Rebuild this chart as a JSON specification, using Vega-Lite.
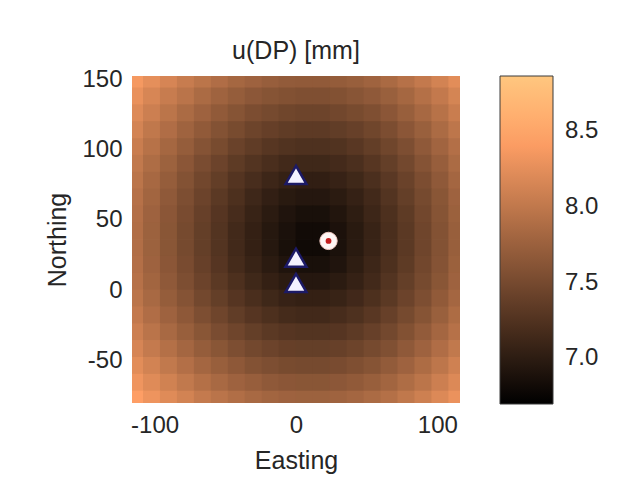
{
"$schema":"https://vega.github.io/schema/vega-lite/v6.json",
"autosize":"none",
"width":328,"height":327,
"padding":{"left":132,"top":76,"right":162,"bottom":97},
"background":"#ffffff",
"config":{"view":{"stroke":null},"font":"Liberation Sans"},
"title":{"text":"u(DP) [mm]","fontSize":25,"fontWeight":"normal","color":"#262626","frame":"group","baseline":"alphabetic","offset":-16,"font":"Liberation Sans"},
"datasets":{
"grid":[
{"x":-114,"y":150,"v":8.36},{"x":-102,"y":150,"v":8.25},{"x":-90,"y":150,"v":8.15},{"x":-78,"y":150,"v":8.05},{"x":-66,"y":150,"v":7.97},{"x":-54,"y":150,"v":7.89},{"x":-42,"y":150,"v":7.82},{"x":-30,"y":150,"v":7.77},{"x":-18,"y":150,"v":7.72},{"x":-6,"y":150,"v":7.69},{"x":6,"y":150,"v":7.68},{"x":18,"y":150,"v":7.68},{"x":30,"y":150,"v":7.70},{"x":42,"y":150,"v":7.73},{"x":54,"y":150,"v":7.78},{"x":66,"y":150,"v":7.85},{"x":78,"y":150,"v":7.93},{"x":90,"y":150,"v":8.02},{"x":102,"y":150,"v":8.12},{"x":114,"y":150,"v":8.23},
{"x":-114,"y":138,"v":8.28},{"x":-102,"y":138,"v":8.16},{"x":-90,"y":138,"v":8.05},{"x":-78,"y":138,"v":7.96},{"x":-66,"y":138,"v":7.86},{"x":-54,"y":138,"v":7.78},{"x":-42,"y":138,"v":7.71},{"x":-30,"y":138,"v":7.65},{"x":-18,"y":138,"v":7.61},{"x":-6,"y":138,"v":7.58},{"x":6,"y":138,"v":7.56},{"x":18,"y":138,"v":7.56},{"x":30,"y":138,"v":7.58},{"x":42,"y":138,"v":7.62},{"x":54,"y":138,"v":7.67},{"x":66,"y":138,"v":7.74},{"x":78,"y":138,"v":7.82},{"x":90,"y":138,"v":7.92},{"x":102,"y":138,"v":8.02},{"x":114,"y":138,"v":8.14},
{"x":-114,"y":126,"v":8.20},{"x":-102,"y":126,"v":8.08},{"x":-90,"y":126,"v":7.97},{"x":-78,"y":126,"v":7.86},{"x":-66,"y":126,"v":7.77},{"x":-54,"y":126,"v":7.68},{"x":-42,"y":126,"v":7.61},{"x":-30,"y":126,"v":7.54},{"x":-18,"y":126,"v":7.50},{"x":-6,"y":126,"v":7.46},{"x":6,"y":126,"v":7.44},{"x":18,"y":126,"v":7.44},{"x":30,"y":126,"v":7.47},{"x":42,"y":126,"v":7.51},{"x":54,"y":126,"v":7.56},{"x":66,"y":126,"v":7.64},{"x":78,"y":126,"v":7.73},{"x":90,"y":126,"v":7.83},{"x":102,"y":126,"v":7.94},{"x":114,"y":126,"v":8.06},
{"x":-114,"y":114,"v":8.13},{"x":-102,"y":114,"v":8.00},{"x":-90,"y":114,"v":7.89},{"x":-78,"y":114,"v":7.78},{"x":-66,"y":114,"v":7.68},{"x":-54,"y":114,"v":7.59},{"x":-42,"y":114,"v":7.51},{"x":-30,"y":114,"v":7.44},{"x":-18,"y":114,"v":7.39},{"x":-6,"y":114,"v":7.35},{"x":6,"y":114,"v":7.33},{"x":18,"y":114,"v":7.33},{"x":30,"y":114,"v":7.36},{"x":42,"y":114,"v":7.40},{"x":54,"y":114,"v":7.46},{"x":66,"y":114,"v":7.54},{"x":78,"y":114,"v":7.64},{"x":90,"y":114,"v":7.74},{"x":102,"y":114,"v":7.86},{"x":114,"y":114,"v":7.98},
{"x":-114,"y":102,"v":8.06},{"x":-102,"y":102,"v":7.94},{"x":-90,"y":102,"v":7.82},{"x":-78,"y":102,"v":7.71},{"x":-66,"y":102,"v":7.60},{"x":-54,"y":102,"v":7.51},{"x":-42,"y":102,"v":7.42},{"x":-30,"y":102,"v":7.35},{"x":-18,"y":102,"v":7.29},{"x":-6,"y":102,"v":7.25},{"x":6,"y":102,"v":7.23},{"x":18,"y":102,"v":7.23},{"x":30,"y":102,"v":7.25},{"x":42,"y":102,"v":7.30},{"x":54,"y":102,"v":7.37},{"x":66,"y":102,"v":7.46},{"x":78,"y":102,"v":7.55},{"x":90,"y":102,"v":7.67},{"x":102,"y":102,"v":7.79},{"x":114,"y":102,"v":7.91},
{"x":-114,"y":90,"v":8.01},{"x":-102,"y":90,"v":7.88},{"x":-90,"y":90,"v":7.76},{"x":-78,"y":90,"v":7.64},{"x":-66,"y":90,"v":7.53},{"x":-54,"y":90,"v":7.43},{"x":-42,"y":90,"v":7.34},{"x":-30,"y":90,"v":7.26},{"x":-18,"y":90,"v":7.20},{"x":-6,"y":90,"v":7.15},{"x":6,"y":90,"v":7.13},{"x":18,"y":90,"v":7.13},{"x":30,"y":90,"v":7.16},{"x":42,"y":90,"v":7.21},{"x":54,"y":90,"v":7.29},{"x":66,"y":90,"v":7.38},{"x":78,"y":90,"v":7.48},{"x":90,"y":90,"v":7.60},{"x":102,"y":90,"v":7.72},{"x":114,"y":90,"v":7.86},
{"x":-114,"y":78,"v":7.97},{"x":-102,"y":78,"v":7.83},{"x":-90,"y":78,"v":7.71},{"x":-78,"y":78,"v":7.59},{"x":-66,"y":78,"v":7.47},{"x":-54,"y":78,"v":7.37},{"x":-42,"y":78,"v":7.27},{"x":-30,"y":78,"v":7.19},{"x":-18,"y":78,"v":7.11},{"x":-6,"y":78,"v":7.06},{"x":6,"y":78,"v":7.03},{"x":18,"y":78,"v":7.03},{"x":30,"y":78,"v":7.07},{"x":42,"y":78,"v":7.13},{"x":54,"y":78,"v":7.21},{"x":66,"y":78,"v":7.31},{"x":78,"y":78,"v":7.42},{"x":90,"y":78,"v":7.54},{"x":102,"y":78,"v":7.67},{"x":114,"y":78,"v":7.81},
{"x":-114,"y":66,"v":7.93},{"x":-102,"y":66,"v":7.80},{"x":-90,"y":66,"v":7.67},{"x":-78,"y":66,"v":7.55},{"x":-66,"y":66,"v":7.43},{"x":-54,"y":66,"v":7.32},{"x":-42,"y":66,"v":7.22},{"x":-30,"y":66,"v":7.12},{"x":-18,"y":66,"v":7.04},{"x":-6,"y":66,"v":6.98},{"x":6,"y":66,"v":6.95},{"x":18,"y":66,"v":6.95},{"x":30,"y":66,"v":6.99},{"x":42,"y":66,"v":7.06},{"x":54,"y":66,"v":7.15},{"x":66,"y":66,"v":7.26},{"x":78,"y":66,"v":7.38},{"x":90,"y":66,"v":7.50},{"x":102,"y":66,"v":7.63},{"x":114,"y":66,"v":7.77},
{"x":-114,"y":54,"v":7.91},{"x":-102,"y":54,"v":7.77},{"x":-90,"y":54,"v":7.64},{"x":-78,"y":54,"v":7.52},{"x":-66,"y":54,"v":7.40},{"x":-54,"y":54,"v":7.28},{"x":-42,"y":54,"v":7.18},{"x":-30,"y":54,"v":7.08},{"x":-18,"y":54,"v":6.99},{"x":-6,"y":54,"v":6.92},{"x":6,"y":54,"v":6.87},{"x":18,"y":54,"v":6.87},{"x":30,"y":54,"v":6.93},{"x":42,"y":54,"v":7.01},{"x":54,"y":54,"v":7.11},{"x":66,"y":54,"v":7.22},{"x":78,"y":54,"v":7.34},{"x":90,"y":54,"v":7.47},{"x":102,"y":54,"v":7.61},{"x":114,"y":54,"v":7.75},
{"x":-114,"y":42,"v":7.90},{"x":-102,"y":42,"v":7.76},{"x":-90,"y":42,"v":7.63},{"x":-78,"y":42,"v":7.50},{"x":-66,"y":42,"v":7.38},{"x":-54,"y":42,"v":7.26},{"x":-42,"y":42,"v":7.15},{"x":-30,"y":42,"v":7.05},{"x":-18,"y":42,"v":6.96},{"x":-6,"y":42,"v":6.88},{"x":6,"y":42,"v":6.82},{"x":18,"y":42,"v":6.82},{"x":30,"y":42,"v":6.89},{"x":42,"y":42,"v":6.98},{"x":54,"y":42,"v":7.08},{"x":66,"y":42,"v":7.20},{"x":78,"y":42,"v":7.32},{"x":90,"y":42,"v":7.45},{"x":102,"y":42,"v":7.59},{"x":114,"y":42,"v":7.73},
{"x":-114,"y":30,"v":7.90},{"x":-102,"y":30,"v":7.76},{"x":-90,"y":30,"v":7.63},{"x":-78,"y":30,"v":7.50},{"x":-66,"y":30,"v":7.38},{"x":-54,"y":30,"v":7.26},{"x":-42,"y":30,"v":7.15},{"x":-30,"y":30,"v":7.05},{"x":-18,"y":30,"v":6.96},{"x":-6,"y":30,"v":6.87},{"x":6,"y":30,"v":6.81},{"x":18,"y":30,"v":6.81},{"x":30,"y":30,"v":6.88},{"x":42,"y":30,"v":6.98},{"x":54,"y":30,"v":7.08},{"x":66,"y":30,"v":7.20},{"x":78,"y":30,"v":7.32},{"x":90,"y":30,"v":7.45},{"x":102,"y":30,"v":7.59},{"x":114,"y":30,"v":7.73},
{"x":-114,"y":18,"v":7.91},{"x":-102,"y":18,"v":7.77},{"x":-90,"y":18,"v":7.64},{"x":-78,"y":18,"v":7.52},{"x":-66,"y":18,"v":7.40},{"x":-54,"y":18,"v":7.28},{"x":-42,"y":18,"v":7.17},{"x":-30,"y":18,"v":7.08},{"x":-18,"y":18,"v":6.99},{"x":-6,"y":18,"v":6.92},{"x":6,"y":18,"v":6.87},{"x":18,"y":18,"v":6.87},{"x":30,"y":18,"v":6.92},{"x":42,"y":18,"v":7.01},{"x":54,"y":18,"v":7.11},{"x":66,"y":18,"v":7.22},{"x":78,"y":18,"v":7.34},{"x":90,"y":18,"v":7.47},{"x":102,"y":18,"v":7.60},{"x":114,"y":18,"v":7.75},
{"x":-114,"y":6,"v":7.93},{"x":-102,"y":6,"v":7.80},{"x":-90,"y":6,"v":7.67},{"x":-78,"y":6,"v":7.55},{"x":-66,"y":6,"v":7.43},{"x":-54,"y":6,"v":7.32},{"x":-42,"y":6,"v":7.22},{"x":-30,"y":6,"v":7.13},{"x":-18,"y":6,"v":7.05},{"x":-6,"y":6,"v":6.99},{"x":6,"y":6,"v":6.95},{"x":18,"y":6,"v":6.95},{"x":30,"y":6,"v":6.99},{"x":42,"y":6,"v":7.06},{"x":54,"y":6,"v":7.15},{"x":66,"y":6,"v":7.26},{"x":78,"y":6,"v":7.38},{"x":90,"y":6,"v":7.50},{"x":102,"y":6,"v":7.63},{"x":114,"y":6,"v":7.77},
{"x":-114,"y":-6,"v":7.97},{"x":-102,"y":-6,"v":7.84},{"x":-90,"y":-6,"v":7.71},{"x":-78,"y":-6,"v":7.60},{"x":-66,"y":-6,"v":7.48},{"x":-54,"y":-6,"v":7.38},{"x":-42,"y":-6,"v":7.28},{"x":-30,"y":-6,"v":7.20},{"x":-18,"y":-6,"v":7.13},{"x":-6,"y":-6,"v":7.07},{"x":6,"y":-6,"v":7.05},{"x":18,"y":-6,"v":7.05},{"x":30,"y":-6,"v":7.08},{"x":42,"y":-6,"v":7.14},{"x":54,"y":-6,"v":7.22},{"x":66,"y":-6,"v":7.32},{"x":78,"y":-6,"v":7.43},{"x":90,"y":-6,"v":7.55},{"x":102,"y":-6,"v":7.68},{"x":114,"y":-6,"v":7.81},
{"x":-114,"y":-18,"v":8.02},{"x":-102,"y":-18,"v":7.89},{"x":-90,"y":-18,"v":7.77},{"x":-78,"y":-18,"v":7.66},{"x":-66,"y":-18,"v":7.55},{"x":-54,"y":-18,"v":7.45},{"x":-42,"y":-18,"v":7.36},{"x":-30,"y":-18,"v":7.28},{"x":-18,"y":-18,"v":7.22},{"x":-6,"y":-18,"v":7.17},{"x":6,"y":-18,"v":7.15},{"x":18,"y":-18,"v":7.15},{"x":30,"y":-18,"v":7.18},{"x":42,"y":-18,"v":7.23},{"x":54,"y":-18,"v":7.30},{"x":66,"y":-18,"v":7.40},{"x":78,"y":-18,"v":7.50},{"x":90,"y":-18,"v":7.61},{"x":102,"y":-18,"v":7.74},{"x":114,"y":-18,"v":7.87},
{"x":-114,"y":-30,"v":8.08},{"x":-102,"y":-30,"v":7.96},{"x":-90,"y":-30,"v":7.84},{"x":-78,"y":-30,"v":7.73},{"x":-66,"y":-30,"v":7.63},{"x":-54,"y":-30,"v":7.53},{"x":-42,"y":-30,"v":7.45},{"x":-30,"y":-30,"v":7.38},{"x":-18,"y":-30,"v":7.32},{"x":-6,"y":-30,"v":7.28},{"x":6,"y":-30,"v":7.26},{"x":18,"y":-30,"v":7.26},{"x":30,"y":-30,"v":7.28},{"x":42,"y":-30,"v":7.33},{"x":54,"y":-30,"v":7.40},{"x":66,"y":-30,"v":7.48},{"x":78,"y":-30,"v":7.58},{"x":90,"y":-30,"v":7.69},{"x":102,"y":-30,"v":7.81},{"x":114,"y":-30,"v":7.93},
{"x":-114,"y":-42,"v":8.15},{"x":-102,"y":-42,"v":8.03},{"x":-90,"y":-42,"v":7.92},{"x":-78,"y":-42,"v":7.81},{"x":-66,"y":-42,"v":7.71},{"x":-54,"y":-42,"v":7.63},{"x":-42,"y":-42,"v":7.55},{"x":-30,"y":-42,"v":7.48},{"x":-18,"y":-42,"v":7.43},{"x":-6,"y":-42,"v":7.39},{"x":6,"y":-42,"v":7.38},{"x":18,"y":-42,"v":7.38},{"x":30,"y":-42,"v":7.40},{"x":42,"y":-42,"v":7.44},{"x":54,"y":-42,"v":7.50},{"x":66,"y":-42,"v":7.57},{"x":78,"y":-42,"v":7.67},{"x":90,"y":-42,"v":7.77},{"x":102,"y":-42,"v":7.89},{"x":114,"y":-42,"v":8.01},
{"x":-114,"y":-54,"v":8.23},{"x":-102,"y":-54,"v":8.12},{"x":-90,"y":-54,"v":8.01},{"x":-78,"y":-54,"v":7.91},{"x":-66,"y":-54,"v":7.81},{"x":-54,"y":-54,"v":7.73},{"x":-42,"y":-54,"v":7.66},{"x":-30,"y":-54,"v":7.59},{"x":-18,"y":-54,"v":7.55},{"x":-6,"y":-54,"v":7.51},{"x":6,"y":-54,"v":7.50},{"x":18,"y":-54,"v":7.50},{"x":30,"y":-54,"v":7.52},{"x":42,"y":-54,"v":7.56},{"x":54,"y":-54,"v":7.61},{"x":66,"y":-54,"v":7.69},{"x":78,"y":-54,"v":7.77},{"x":90,"y":-54,"v":7.87},{"x":102,"y":-54,"v":7.98},{"x":114,"y":-54,"v":8.10},
{"x":-114,"y":-66,"v":8.32},{"x":-102,"y":-66,"v":8.21},{"x":-90,"y":-66,"v":8.11},{"x":-78,"y":-66,"v":8.01},{"x":-66,"y":-66,"v":7.92},{"x":-54,"y":-66,"v":7.84},{"x":-42,"y":-66,"v":7.77},{"x":-30,"y":-66,"v":7.72},{"x":-18,"y":-66,"v":7.67},{"x":-6,"y":-66,"v":7.64},{"x":6,"y":-66,"v":7.63},{"x":18,"y":-66,"v":7.63},{"x":30,"y":-66,"v":7.65},{"x":42,"y":-66,"v":7.68},{"x":54,"y":-66,"v":7.73},{"x":66,"y":-66,"v":7.80},{"x":78,"y":-66,"v":7.88},{"x":90,"y":-66,"v":7.97},{"x":102,"y":-66,"v":8.08},{"x":114,"y":-66,"v":8.19},
{"x":-114,"y":-78,"v":8.42},{"x":-102,"y":-78,"v":8.31},{"x":-90,"y":-78,"v":8.21},{"x":-78,"y":-78,"v":8.12},{"x":-66,"y":-78,"v":8.03},{"x":-54,"y":-78,"v":7.96},{"x":-42,"y":-78,"v":7.90},{"x":-30,"y":-78,"v":7.84},{"x":-18,"y":-78,"v":7.80},{"x":-6,"y":-78,"v":7.77},{"x":6,"y":-78,"v":7.76},{"x":18,"y":-78,"v":7.76},{"x":30,"y":-78,"v":7.78},{"x":42,"y":-78,"v":7.81},{"x":54,"y":-78,"v":7.86},{"x":66,"y":-78,"v":7.92},{"x":78,"y":-78,"v":8.00},{"x":90,"y":-78,"v":8.09},{"x":102,"y":-78,"v":8.19},{"x":114,"y":-78,"v":8.29}
],
"stations":[{"x":0,"y":82},{"x":0,"y":23},{"x":0,"y":5}],
"dp":[{"x":23,"y":35}]
},
"encoding":{
"x":{"field":"x","type":"quantitative","title":"Easting","scale":{"domain":[-116,116],"nice":false,"zero":false},
"axis":{"values":[-100,0,100],"labelExpr":"'' + datum.value","grid":false,"domain":false,"ticks":false,"tickSize":0,"labelPadding":10,"labelFontSize":24,"labelColor":"#262626","labelFont":"Liberation Sans","titleFontSize":25,"titleFontWeight":"normal","titleColor":"#262626","titleFont":"Liberation Sans","titlePadding":11}},
"y":{"field":"y","type":"quantitative","title":"Northing","scale":{"domain":[-80.5,152.5],"nice":false,"zero":false},
"axis":{"values":[-50,0,50,100,150],"labelExpr":"'' + datum.value","grid":false,"domain":false,"ticks":false,"tickSize":0,"labelPadding":10,"labelFontSize":24,"labelColor":"#262626","labelFont":"Liberation Sans","titleFontSize":25,"titleFontWeight":"normal","titleColor":"#262626","titleFont":"Liberation Sans","titlePadding":11}}
},
"layer":[
{"data":{"name":"grid"},
"mark":{"type":"square","size":310,"opacity":1,"filled":true,"clip":true},
"encoding":{"color":{"field":"v","type":"quantitative",
"scale":{"domain":[6.70,8.428,8.86],"range":["#000000","#ff9f65","#ffc77f"],"interpolate":"rgb"},
"legend":{"title":null,"orient":"right","offset":40,"padding":0,"direction":"vertical","gradientLength":328,"gradientThickness":53,"gradientStrokeColor":"#3a3a3a","gradientStrokeWidth":1,"values":[7.0,7.5,8.0,8.5],"format":".1f","labelFontSize":24,"labelColor":"#262626","labelFont":"Liberation Sans","labelOffset":12,"labelOverlap":false}}}},
{"data":{"name":"stations"},
"mark":{"type":"point","shape":"triangle-up","size":440,"filled":true,"fill":"#f4f2ff","stroke":"#1c1a66","strokeWidth":2.5,"opacity":1}},
{"data":{"name":"dp"},
"mark":{"type":"point","shape":"circle","size":300,"filled":true,"fill":"#fff6f4","stroke":"#f0c8c0","strokeWidth":1,"opacity":1}},
{"data":{"name":"dp"},
"mark":{"type":"point","shape":"circle","size":34,"filled":true,"fill":"#c41e1e","opacity":1}}
]
}
